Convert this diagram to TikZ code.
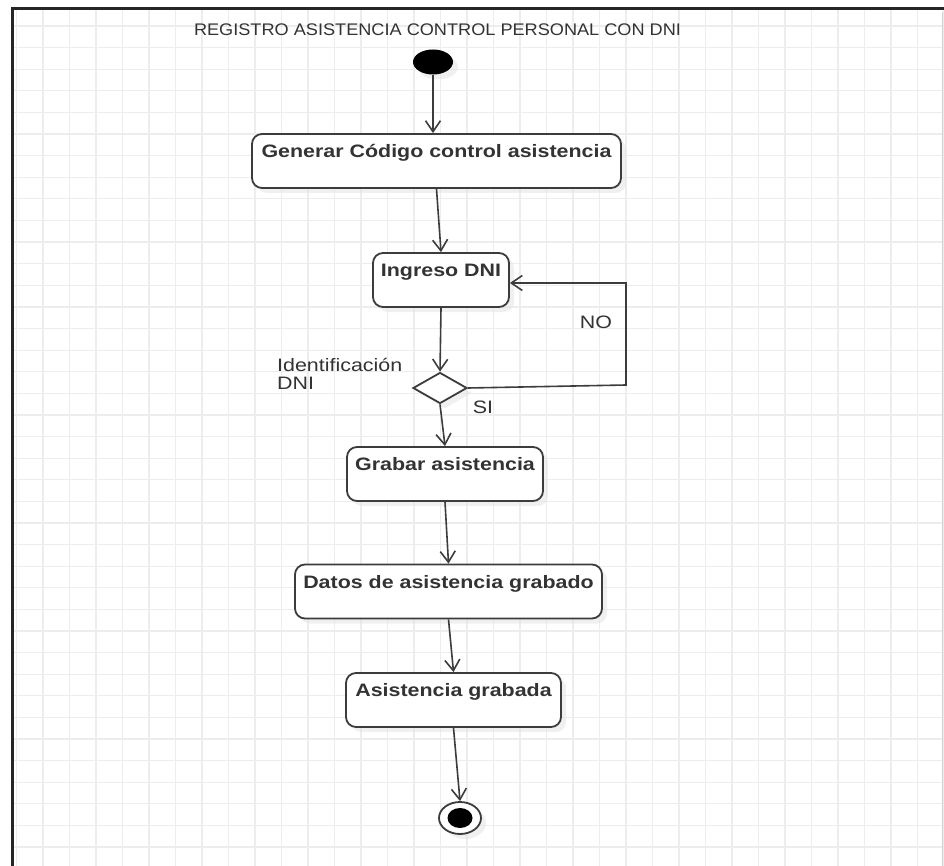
\documentclass[tikz,border=0pt]{standalone}
\usepackage{fontspec}
\setmainfont{Liberation Sans}[FakeStretch=1.19]
\newfontfamily\titlefont{Liberation Sans}[FakeStretch=1.08]
\usetikzlibrary{arrows.meta,shapes.geometric,shadows}

\definecolor{ink}{HTML}{333333}
\definecolor{edgec}{HTML}{3C3C3C}
\definecolor{gridc}{HTML}{EDEDED}

\begin{document}
\begin{tikzpicture}[x=1pt,y=-1pt,
  softshadow/.style={drop shadow={fill=black!11, shadow xshift=5pt, shadow yshift=-5pt}},
  actbox/.style={draw=edgec, line width=1.8pt, rounded corners=10pt, fill=white,
    font=\fontsize{18}{20}\selectfont\bfseries, text=ink,
    minimum height=54pt, inner ysep=0pt, inner xsep=2pt,
    text height=23.5pt, text depth=30.5pt, softshadow},
  flow/.style={draw=edgec, line width=1.6pt, -{Straight Barb[length=11pt,width=15pt]}},
  lbl/.style={font=\fontsize{18}{17.5}\selectfont, text=ink, inner sep=0pt}
]
\useasboundingbox (0,0) rectangle (944,866);
\fill[white] (0,0) rectangle (944,866);

% background grid inside the frame
\begin{scope}
  \clip (13,9) rectangle (944,866);
  \foreach \i in {0,...,35}
    \draw[gridc, line width=1.2pt] ({16.5+26.5*\i},9) -- ({16.5+26.5*\i},866);
  \foreach \j in {1,...,40}
    \draw[gridc, line width=1.2pt] (13,{4.5+21.6*\j}) -- (944,{4.5+21.6*\j});
\end{scope}

% frame
\draw[black!85, line width=3pt] (11.5,8.5) -- (944,8.5);
\draw[black!85, line width=2.5pt] (12.5,7) -- (12.5,866);
\draw[gray!35, line width=1pt] (942,12) -- (942,866);

% title
\node[font=\titlefont\fontsize{16.8}{18}\selectfont, text=ink, anchor=base, inner sep=0pt]
  (title) at (437.5,36) {REGISTRO ASISTENCIA CONTROL PERSONAL CON DNI};

% initial and final states
\node[ellipse, fill=black, minimum width=40pt, minimum height=25pt, inner sep=0pt, softshadow]
  (start) at (433,62) {};
\node[ellipse, draw=edgec, line width=1.8pt, fill=white, minimum width=42pt, minimum height=32pt,
  inner sep=0pt, softshadow] (endc) at (460,818) {};
\node[ellipse, fill=black, minimum width=25pt, minimum height=20pt, inner sep=0pt]
  (enddot) at (endc.center) {};

% activities
\node[actbox, minimum width=369pt] (gen)   at (436.5,161) {Generar Código control asistencia};
\node[actbox, minimum width=136pt] (ing)   at (441,280)   {Ingreso DNI};
\node[actbox, minimum width=196pt] (grab)  at (445,474)   {Grabar asistencia};
\node[actbox, minimum width=307pt] (datos) at (448.5,591.5) {Datos de asistencia grabado};
\node[actbox, minimum width=215pt] (asis)  at (453.5,700) {Asistencia grabada};

% decision
\node[diamond, draw=edgec, line width=1.8pt, fill=white, minimum width=54pt, minimum height=31pt,
  inner sep=0pt, softshadow] (dec) at (440,388) {};

% labels
\node[lbl, anchor=north west, text height=13pt, align=left] (idlbl) at (277,376)
  {Identificación\\DNI};
\node[lbl, anchor=base] (nolbl) at (596,328.5) {NO};
\node[lbl, anchor=base] (silbl) at (483,413.5) {SI};

% loop-back corners
\coordinate (loopA) at (626,385);
\coordinate (loopB) at (626,283);

% transitions
\draw[flow] (start.south) -- (start.south |- gen.north);
\draw[flow] (gen.south) -- (ing.north);
\draw[flow] (ing.south) -- (dec.north);
\draw[flow] (dec.south) -- (grab.north);
\draw[flow] (grab.south) -- (datos.north);
\draw[flow] (datos.south) -- (asis.north);
\draw[flow] (asis.south) -- (endc.north);
\draw[flow] (dec.east) -- (loopA) -- (loopB) -- (ing.east |- loopB);
\end{tikzpicture}
\end{document}
